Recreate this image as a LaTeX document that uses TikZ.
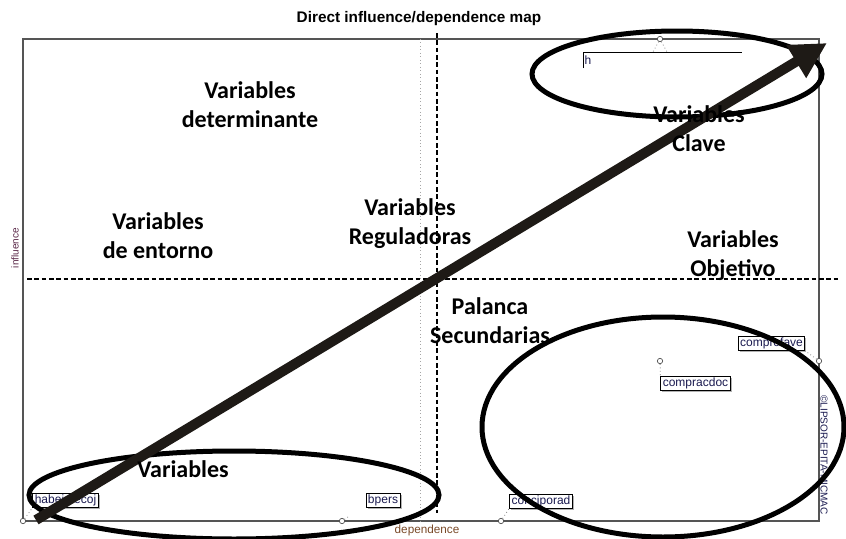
\documentclass[tikz,border=0pt]{standalone}
\usepackage{fontspec}
\setmainfont{Carlito}
\newfontfamily\arial{Liberation Sans}
\usetikzlibrary{arrows.meta,shadows}
\definecolor{arrowc}{HTML}{1E1A16}
\definecolor{labc}{HTML}{1A1A50}
\definecolor{axc}{HTML}{5A2848}
\definecolor{depc}{HTML}{7A4A28}
\definecolor{framec}{HTML}{555555}
\begin{document}
\begin{tikzpicture}[x=0.75pt,y=-0.75pt,
  region/.style={font=\fontsize{18}{21.75}\selectfont\bfseries, align=center, inner sep=0pt},
  varbox/.style={draw=black, line width=0.6pt, fill=white, font=\arial\fontsize{9}{10}\selectfont, text=labc, inner xsep=1.5pt, inner ysep=1pt, drop shadow={shadow xshift=1.2pt, shadow yshift=-1.2pt, fill=gray!60, opacity=1}},
  marker/.style={circle, draw=black!70, fill=white, line width=0.5pt, inner sep=0pt, minimum size=4pt},
  link/.style={draw=gray, dotted, line width=0.6pt},
  bigring/.style={draw=black, line width=3.75pt},
  dashline/.style={draw=black, dash pattern=on 3.5pt off 2pt, line width=1pt},
]
\useasboundingbox (0,0) rectangle (846,539);
\fill[white] (0,0) rectangle (846,539);

% frame and separators
\draw[framec, line width=0.9pt] (23,39) rectangle (819,521);
\draw[gray!70, dotted, line width=0.6pt] (420,39) -- (420,521);
\draw[dashline] (437,33) -- (437,513);
\draw[dashline] (27,279) -- (838,279);

% title and axes
\node[font=\arial\bfseries\fontsize{11.5}{13}\selectfont] (title) at (419,19) {Direct influence/dependence map};
\node[font=\arial\fontsize{7.5}{9}\selectfont, text=axc, rotate=90] (infl) at (15,248) {influence};
\node[font=\arial\fontsize{8.8}{10}\selectfont, text=depc] (dep) at (427,530) {dependence};
\node[font=\arial\fontsize{7.5}{8}\selectfont, text=labc, rotate=-90] (copy) at (824,455) {©LIPSOR-EPITA-MICMAC};

% variable labels
\node[varbox] (habe) at (65.5,500.5) {habeimecoj};
\node[varbox] (bpers) at (383,500.5) {bpers};
\node[varbox] (conc) at (541,501) {conciporad};
\node[varbox] (comprof) at (771.5,343.5) {comprofave};
\node[varbox] (comprac) at (695.5,383.5) {compracdoc};
\node[anchor=west, font=\arial\fontsize{9}{10}\selectfont, text=labc, inner sep=1pt] (htop) at (583,60) {h};
\draw[black, line width=0.6pt] (583,68) -- (583,52) -- (742,52);

% markers
\node[marker] (m1) at (23,521) {};
\node[marker] (m2) at (342,521) {};
\node[marker] (m3) at (501,521) {};
\node[marker] (m4) at (660,361) {};
\node[marker] (m5) at (819,361) {};
\node[marker] (m6) at (660,39) {};
\coordinate (t1) at (653,52);
\coordinate (t2) at (667,52);
\coordinate (b2) at (348,517);
\draw[link] (m1) -- (habe.south west);
\draw[link] (m2) -- (b2);
\draw[link] (m3) -- (conc.south west);
\draw[link] (m4) -- (comprac.north west);
\draw[link] (m5) -- (comprof.south east);
\draw[link] (m6) -- (t1);
\draw[link] (m6) -- (t2);

% ellipses
\draw[bigring] (677,74) ellipse [x radius=145, y radius=43];
\draw[bigring] (234,495) ellipse [x radius=205, y radius=44];
\draw[bigring] (663,427) ellipse [x radius=181, y radius=110];

% arrow
\coordinate (astart) at (36,520);
\coordinate (aend) at (827,43);
\draw[arrowc, line width=7.5pt, -{Triangle[length=27pt,width=27pt]}] (astart) -- (aend);

% region labels
\node[region] (rdet) at (250,104.5) {Variables\\determinante};
\node[region] (rent) at (158,235.5) {Variables\\de entorno};
\node[region] (rreg) at (410,224) {Variables\\Reguladoras};
\node[region] (rpal) at (490,321) {Palanca\\Secundarias};
\node[region] (rcla) at (699,128.5) {Variables\\Clave};
\node[region] (robj) at (733,256) {Variables\\Objetivo};
\node[region, anchor=base] (rvar) at (183,477) {Variables};
\end{tikzpicture}
\end{document}
